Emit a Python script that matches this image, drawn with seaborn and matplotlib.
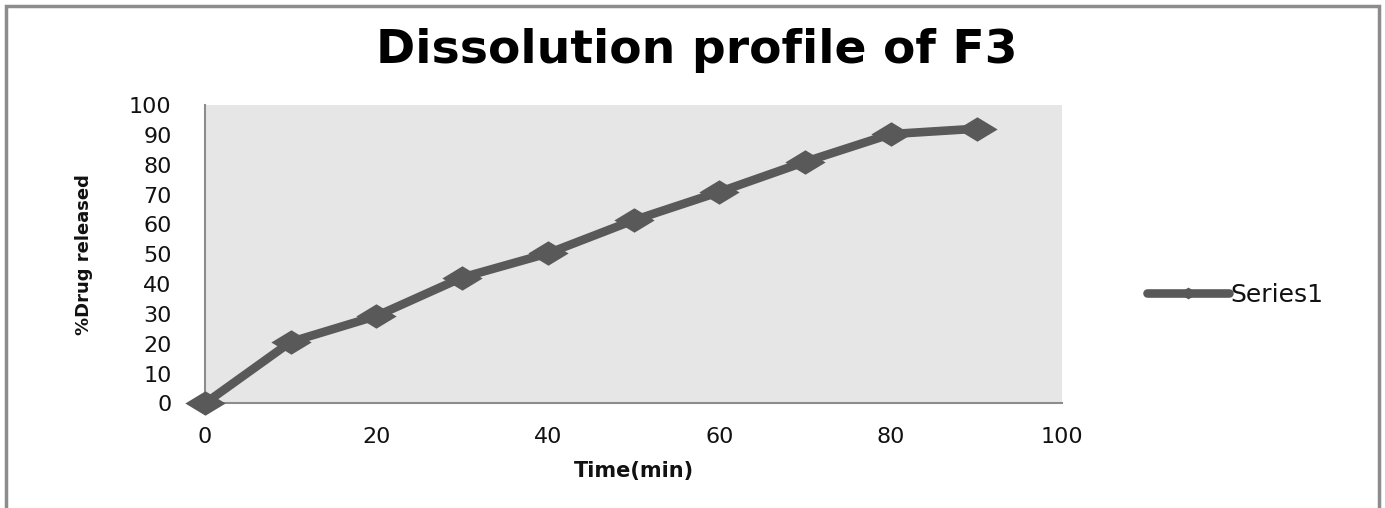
import matplotlib.pyplot as plt
import numpy as np
import pandas as pd
import seaborn as sns
from matplotlib.patches import Rectangle

time_min = [0, 10, 20, 30, 40, 50, 60, 70, 80, 90]
drug_released = [0, 20.6, 29.3, 42.2, 50.3, 61.4, 70.9, 81.0, 90.3, 92.1]
series_name = "Series1"
x_ticks = [0, 20, 40, 60, 80, 100]
y_ticks = [0, 10, 20, 30, 40, 50, 60, 70, 80, 90, 100]

LINE = "#595959"
SPINE = "#8c8c8c"
TEXT = "#111111"

sns.set_style("white", {"axes.facecolor": "#e6e6e6"})
plt.rcParams["font.family"] = ["DejaVu Sans"]

df = pd.DataFrame({"time": time_min, "released": drug_released, "series": series_name})

fig = plt.figure(figsize=(13.85, 5.08), dpi=100)
ax = fig.add_axes([0.148, 0.206, 0.619, 0.587])

# wide diamond like the excel marker
diamond = [(-1.65, 0), (0, 1), (1.65, 0), (0, -1), (-1.65, 0)]
sns.lineplot(data=df, x="time", y="released", color=LINE, linewidth=6.2,
             marker=diamond, markersize=29, markeredgewidth=0,
             label=series_name, ax=ax, clip_on=False, zorder=3)

ax.set_xlim(0, 100)
ax.set_ylim(0, 100)
ax.set_xticks(x_ticks)
ax.set_yticks(y_ticks)
ax.tick_params(axis="both", length=0, labelsize=16, colors=TEXT)
ax.tick_params(axis="x", pad=17)
ax.tick_params(axis="y", pad=24)
for side in ["top", "right"]:
    ax.spines[side].set_visible(False)
for side in ["left", "bottom"]:
    ax.spines[side].set_color(SPINE)
    ax.spines[side].set_linewidth(1.5)

ax.set_xlabel("Time(min)", fontsize=15, fontweight="bold", labelpad=10, color=TEXT)
ax.set_ylabel("%Drug released", fontsize=13, fontweight="bold", labelpad=26, color=TEXT)
fig.text(0.503, 0.90, "Dissolution profile of F3", fontsize=34, fontweight="bold",
         ha="center", va="center", color="black")

leg = ax.legend(loc="center left", bbox_to_anchor=(0.828, 0.42), bbox_transform=fig.transFigure,
                frameon=False, fontsize=18, handlelength=3.3, handletextpad=0.05,
                borderpad=0, borderaxespad=0, labelcolor=TEXT)
for h in leg.legend_handles:
    h.set_markersize(14)

fig.patches.append(Rectangle((0.004, -0.01), 0.992, 0.998, transform=fig.transFigure,
                             fill=False, edgecolor=SPINE, linewidth=2.5))

fig.savefig("out.png", dpi=100)
plt.close(fig)
